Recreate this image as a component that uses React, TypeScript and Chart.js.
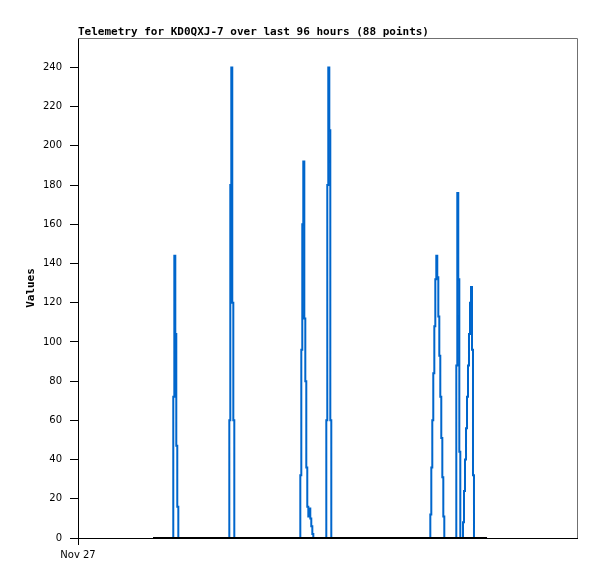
import React, { useEffect, useRef } from "react";
import { Chart, registerables } from "chart.js";

Chart.register(...registerables);

const TITLE = "Telemetry for KD0QXJ-7 over last 96 hours (88 points)";
const Y_TITLE = "Values";
const X_TICK_LABEL = "Nov 27";
const X_MIN = 0;
const X_MAX = 96;
const Y_MIN = 0;
const Y_MAX = 255;
const Y_TICKS = [0, 20, 40, 60, 80, 100, 120, 140, 160, 180, 200, 220, 240];

// hours since Nov 27 00:00
const xHours = [
  14.43, 15.78, 16.93,
  18.33, 18.53, 18.72, 18.91, 19.1, 19.3,
  20.59, 21.55, 23.47, 25.39, 27.32,
  29.11, 29.3, 29.49, 29.68, 29.88, 30.07,
  32.13, 35.01, 37.9, 40.79,
  42.77, 42.96, 43.15, 43.34, 43.54, 43.73, 43.92, 44.11, 44.31, 44.5, 44.69, 44.88, 45.08, 45.27,
  46.56,
  47.77, 47.96, 48.15, 48.35, 48.54, 48.73,
  50.41, 53.29, 56.18, 59.06, 60.99, 61.95, 64.83, 66.76,
  67.78, 67.97, 68.16, 68.35, 68.55, 68.74, 68.93, 69.12, 69.32, 69.51, 69.7, 69.89, 70.09, 70.28, 70.47,
  71.57,
  72.78, 72.97, 73.16, 73.36, 73.55,
  74.07, 74.26, 74.45, 74.65, 74.84, 75.03, 75.22, 75.41, 75.61, 75.8, 75.99, 76.18,
  77.34, 78.69,
];

const values = [
  0, 0, 0,
  72, 144, 104, 47, 16, 0,
  0, 0, 0, 0, 0,
  60, 180, 240, 120, 60, 0,
  0, 0, 0, 0,
  32, 96, 160, 192, 112, 80, 36, 16, 11, 15, 10, 6, 2, 0,
  0,
  60, 180, 240, 208, 60, 0,
  0, 0, 0, 0, 0, 0, 0, 0,
  12, 36, 60, 84, 108, 132, 144, 133, 113, 93, 72, 51, 31, 11, 0,
  0,
  88, 176, 132, 44, 0,
  8, 24, 40, 56, 72, 88, 104, 120, 128, 96, 32, 0,
  0, 0,
];

const framePlugin = {
  id: "frame",
  beforeDatasetsDraw(chart: any) {
    const { ctx, chartArea } = chart;
    ctx.save();
    ctx.strokeStyle = "#707070";
    ctx.lineWidth = 1;
    ctx.beginPath();
    ctx.moveTo(chartArea.left, chartArea.top + 0.5);
    ctx.lineTo(chartArea.right + 0.5, chartArea.top + 0.5);
    ctx.lineTo(chartArea.right + 0.5, chartArea.bottom);
    ctx.stroke();
    ctx.restore();
  },
};

export default function App() {
  const ref = useRef<HTMLCanvasElement | null>(null);

  useEffect(() => {
    if (!ref.current) return;
    const pts = xHours.map((x, i) => ({ x, y: values[i] }));
    const baseline = [
      { x: xHours[0], y: 0 },
      { x: xHours[xHours.length - 1], y: 0 },
    ];
    const chart = new Chart(ref.current, {
      type: "line",
      data: {
        datasets: [
          {
            data: baseline,
            borderColor: "#000000",
            borderWidth: 2,
            pointRadius: 0,
            fill: false,
          },
          {
            data: pts,
            borderColor: "#0066cc",
            borderWidth: 2,
            pointRadius: 0,
            stepped: "before",
            fill: false,
          },
        ],
      },
      options: {
        animation: false,
        responsive: false,
        devicePixelRatio: 1,
        layout: { padding: { left: 0, right: 20, top: 0, bottom: 0 } },
        plugins: {
          legend: { display: false },
          tooltip: { enabled: false },
          title: {
            display: true,
            text: TITLE,
            align: "start",
            fullSize: false,
            color: "#000000",
            font: { family: "DejaVu Sans Mono", size: 11, weight: "bold", lineHeight: 1 },
            padding: { top: 26.5, bottom: 0.5 },
          },
        },
        scales: {
          x: {
            type: "linear",
            min: X_MIN,
            max: X_MAX,
            afterBuildTicks: (scale: any) => {
              scale.ticks = [{ value: X_MIN }];
            },
            afterFit: (scale: any) => {
              scale.height = 41;
            },
            ticks: {
              callback: () => X_TICK_LABEL,
              color: "#000000",
              font: { family: "DejaVu Sans", size: 10 },
              padding: 4,
              maxRotation: 0,
              autoSkip: false,
            },
            grid: {
              drawOnChartArea: false,
              tickLength: 7,
              color: "#000000",
              tickColor: "#000000",
            },
            border: { display: true, color: "#000000", width: 1 },
          },
          y: {
            min: Y_MIN,
            max: Y_MAX,
            afterBuildTicks: (scale: any) => {
              scale.ticks = Y_TICKS.map((v) => ({ value: v }));
            },
            afterFit: (scale: any) => {
              scale.width = 78;
            },
            ticks: {
              color: "#000000",
              font: { family: "DejaVu Sans", size: 10 },
              padding: 8,
              autoSkip: false,
            },
            grid: {
              drawOnChartArea: false,
              tickLength: 8,
              color: "#000000",
              tickColor: "#000000",
            },
            border: { display: true, color: "#000000", width: 1 },
            title: {
              display: true,
              text: Y_TITLE,
              color: "#000000",
              font: { family: "DejaVu Sans Mono", size: 11, weight: "bold" },
              padding: { top: 25, bottom: 0 },
            },
          },
        },
      },
      plugins: [framePlugin],
    });
    return () => chart.destroy();
  }, []);

  return (
    <canvas
      ref={ref}
      width={597}
      height={579}
      style={{ position: "fixed", left: 0, top: 0, width: 597, height: 579, background: "#ffffff" }}
    />
  );
}
